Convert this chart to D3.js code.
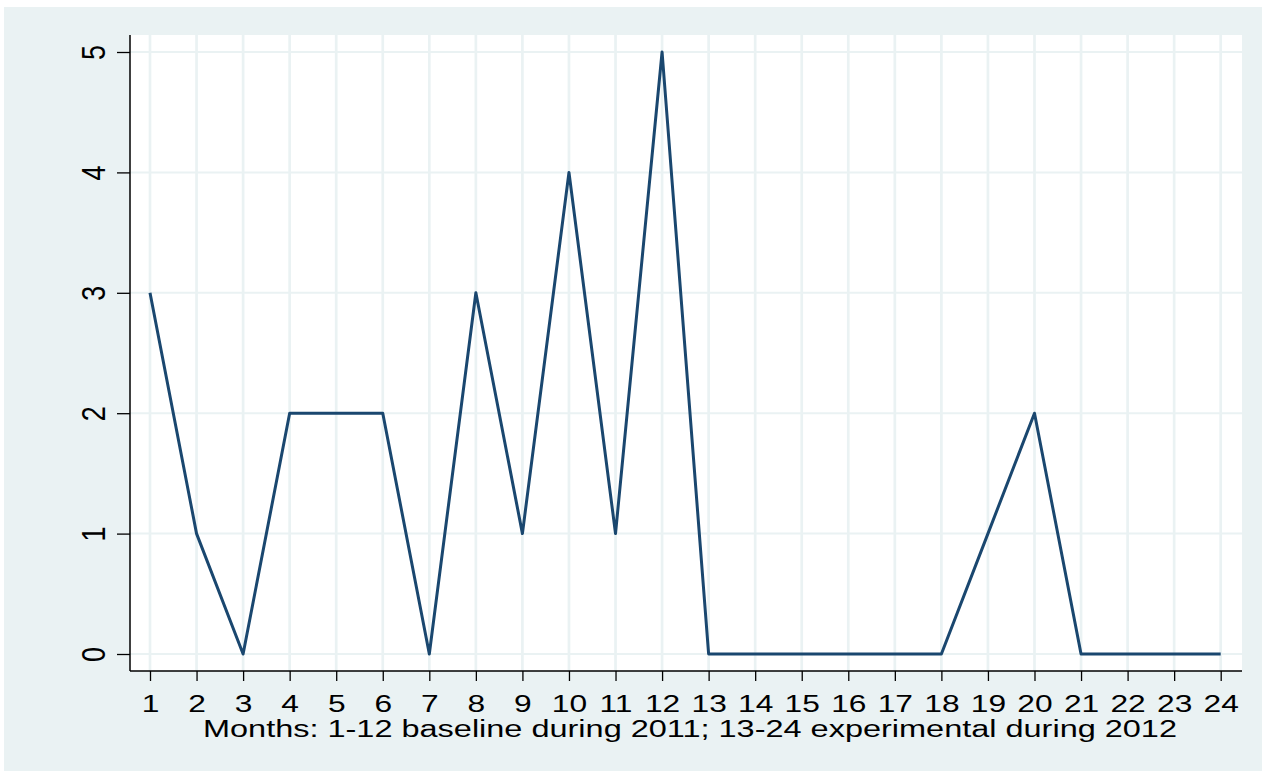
<!DOCTYPE html>
<html>
<head>
<meta charset="utf-8">
<script src="https://cdn.jsdelivr.net/npm/d3@7"></script>
<style>
  html, body { margin: 0; padding: 0; background: #ffffff; }
  svg { display: block; }
  text { font-family: "Liberation Sans", Arial, sans-serif; fill: #000; }
</style>
</head>
<body>
<svg id="chart" width="1262" height="771"></svg>
<script>
const months = [1,2,3,4,5,6,7,8,9,10,11,12,13,14,15,16,17,18,19,20,21,22,23,24];
const counts = [3,1,0,2,2,2,0,3,1,4,1,5,0,0,0,0,0,0,1,2,0,0,0,0];
const yTicks = [0,1,2,3,4,5];
const xTitle = "Months: 1-12 baseline during 2011; 13-24 experimental during 2012";

const svg = d3.select("#chart");
const W = 1262, H = 771;
const plot = { left: 130, right: 1242, top: 35, bottom: 671 };
const sx = 1.35;  // horizontal stretch of x-axis glyphs seen in the reference
const syx = 1.2;  // horizontal stretch for rotated y labels

// outer background
svg.append("rect").attr("x", 4).attr("y", 7).attr("width", W - 4).attr("height", H - 7)
  .attr("fill", "#EAF2F3");
// plot region
svg.append("rect").attr("x", plot.left).attr("y", plot.top)
  .attr("width", plot.right - plot.left).attr("height", plot.bottom - plot.top)
  .attr("fill", "#ffffff");

const x = d3.scaleLinear().domain([1, 24]).range([150, 1220.7]);
const y = d3.scaleLinear().domain([0, 5]).range([654, 52]);

// gridlines
const grid = svg.append("g");
grid.selectAll("line.v").data(months).join("line")
  .attr("x1", d => x(d)).attr("x2", d => x(d))
  .attr("y1", plot.top).attr("y2", plot.bottom)
  .attr("stroke", "#EAF2F3").attr("stroke-width", 2.7);
grid.selectAll("line.h").data(yTicks).join("line")
  .attr("x1", plot.left).attr("x2", plot.right)
  .attr("y1", d => y(d)).attr("y2", d => y(d))
  .attr("stroke", "#EAF2F3").attr("stroke-width", 2);

// data line
const line = d3.line().x((d, i) => x(months[i])).y(d => y(d));
svg.append("path").datum(counts)
  .attr("d", line)
  .attr("fill", "none")
  .attr("stroke", "#1A476F")
  .attr("stroke-width", 3)
  .attr("stroke-linejoin", "round");

// x axis
const xAxis = svg.append("g").attr("transform", `translate(0,${plot.bottom})`)
  .call(d3.axisBottom(x).tickValues(months).tickFormat(d3.format("d")).tickSizeOuter(0).tickSize(10).tickPadding(0));
xAxis.select(".domain").remove();
xAxis.append("line").attr("x1", plot.left).attr("x2", plot.right).attr("y1", 0).attr("y2", 0)
  .attr("stroke", "#000").attr("stroke-width", 1.5);
xAxis.selectAll(".tick line").attr("stroke", "#000").attr("stroke-width", 1.3);
xAxis.selectAll(".tick text")
  .attr("y", 41).attr("dy", null)
  .attr("font-size", 23.5)
  .attr("font-family", "Liberation Sans, Arial, sans-serif")
  .attr("fill", "#000")
  .attr("transform", `scale(${sx},1)`)
  .attr("x", 0);

// y axis
const yAxis = svg.append("g").attr("transform", `translate(${plot.left},0)`)
  .call(d3.axisLeft(y).tickValues(yTicks).tickFormat(d3.format("d")).tickSizeOuter(0).tickSize(13).tickPadding(0));
yAxis.select(".domain").remove();
yAxis.append("line").attr("x1", 0).attr("x2", 0).attr("y1", plot.top).attr("y2", plot.bottom)
  .attr("stroke", "#000").attr("stroke-width", 1.5);
yAxis.selectAll(".tick line").attr("stroke", "#000").attr("stroke-width", 1.3);
yAxis.selectAll(".tick text")
  .attr("x", null).attr("dy", null)
  .attr("text-anchor", "middle")
  .attr("font-size", 27)
  .attr("font-family", "Liberation Sans, Arial, sans-serif")
  .attr("fill", "#000")
  .attr("transform", `translate(-25,0) scale(${syx},1) rotate(-90)`);

// x title
svg.append("text")
  .attr("x", 690).attr("y", 737)
  .attr("text-anchor", "middle")
  .attr("font-size", 23.5)
  .attr("textLength", 974)
  .attr("lengthAdjust", "spacingAndGlyphs")
  .text(xTitle);
</script>
</body>
</html>
